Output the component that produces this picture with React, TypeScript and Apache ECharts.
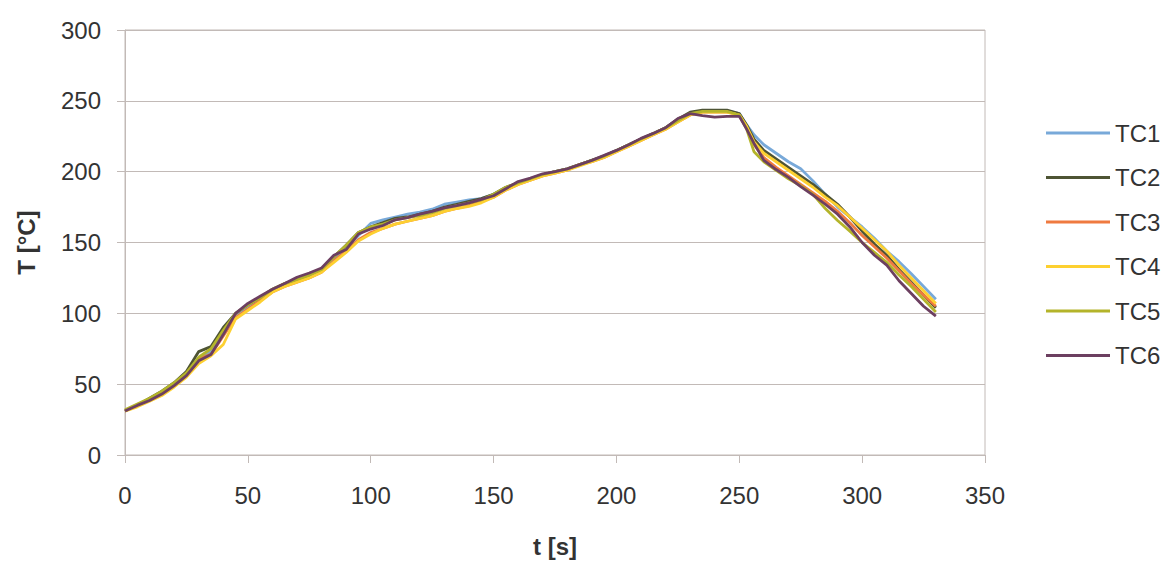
import React, { useEffect, useRef } from "react";
import * as echarts from "echarts";

const times = [0,5,10,15,20,25,30,35,40,45,50,55,60,65,70,75,80,85,90,95,100,105,110,115,120,125,130,135,140,145,150,155,160,165,170,175,180,185,190,195,200,205,210,215,220,225,230,235,240,245,250,253,256,260,265,270,275,280,285,290,295,300,305,310,315,320,325,330];

const tc1 = [31,35.5,39,43,49,56,67,73,86,98,104,110,116,120,124,127,131,139,146,155,163.5,166,168,170,171.5,173.5,177,178.5,180,181,184,188.5,192,195,198,200,202,205,208,211,215,219,223,227,231,236,241,243,243,243,241,233,226,219,213,207,202,193.5,184,175,168,161,153,144,136.5,128,119,110];
const tc2 = [31,35,40,45,51,59,73,76.5,90,100,106,111,117,121,124,127,131,140,148,157,161,164,167,168,170,172,175,177,179,181,184,189,192,195,198,200,202,205,208,211,215,219,223,227,231,237,242,243.5,243.5,243.5,241,233,223,215,209,203,197,191,184,177,168,158,149,141,131,122,113,104];
const tc3 = [31,35,39,44,50,57,68,71,84,97,103,109,115,119,122,125,129,137,144,152,157,160,163,165,167,169,172,174,176,179,182,187,191,194,197,199,201,205,207,210,214,218,222,226,230,235,240,242,242,242,240,231,219,210,203,197,191,185,179,172,164,155,147,139,130,121,113,105];
const tc4 = [31,34,38,42,48,55,64.5,70,78,96,102,108,115,119,122,125,129,136,143,151,156,160,163,165,167,169,172,174,175.5,178,182,187,191,194,197,199,201,204,207,210,214,218,222,226,230,235,240,242,242,242,240,232,221,213,207,201,195,189,182,176,168,160,152,144,134,125,116,107];
const tc5 = [32,36,40,45,51,58,69,75,88,100,106,111,117,121,124,127,131,140,148,157,161,163,166,167.5,169,171,174,176,178,180,184,189,192,195,198,200,202,205,208,211,215,219,223,227,231,236,241,242.5,242.5,242.5,240,230,214,207,201,195,190,184,174,165.5,158,150,143,136,127,119,110,101];
const tc6 = [31,35,38.5,43,49,56,66.5,71,85,100,107,112,117,121,125.5,128.5,132,141,145,156,159.5,162,166,167.5,170,172,174.5,176,178,180.5,183,188,193,195.5,198.5,200,202,205,208,211.5,215,219,223.5,227,231,237.5,241,239.5,238.5,239,239,230,220,208,201.5,196,189.5,183.5,177,170,161,150,141,134,123,114,105,98];

const seriesNames = ["TC1", "TC2", "TC3", "TC4", "TC5", "TC6"];
const seriesValues = [tc1, tc2, tc3, tc4, tc5, tc6];
const seriesColors = ["#78a9d9", "#4e5434", "#ef7a40", "#fdd030", "#b4b42a", "#6c3f60"];

const xTicks = { min: 0, max: 350, interval: 50 };
const yTicks = { min: 0, max: 300, interval: 50 };

const gridColor = "#c2bab7";
const textColor = "#333333";
const font = "'Liberation Sans', Arial, sans-serif";

export default function App() {
  const ref = useRef<HTMLDivElement>(null);
  useEffect(() => {
    if (!ref.current) return;
    const chart = echarts.init(ref.current, undefined, { renderer: "svg" });
    chart.setOption({
      animation: false,
      backgroundColor: "#ffffff",
      textStyle: { fontFamily: font },
      grid: {
        left: 125,
        top: 30,
        right: 182,
        bottom: 106,
        show: true,
        borderColor: gridColor,
        borderWidth: 1,
        containLabel: false,
        outerBoundsMode: "none",
      },
      legend: {
        orient: "vertical",
        left: 1041,
        top: 116,
        itemWidth: 64,
        itemHeight: 3,
        itemGap: 20.5,
        icon: "rect",
        textStyle: { fontSize: 24, color: textColor, fontFamily: font },
        data: seriesNames,
      },
      xAxis: {
        type: "value",
        min: xTicks.min,
        max: xTicks.max,
        interval: xTicks.interval,
        name: "t [s]",
        nameLocation: "middle",
        nameGap: 79,
        nameTextStyle: { fontSize: 24, fontWeight: "bold", color: textColor, fontFamily: font },
        axisLine: { show: true, lineStyle: { color: gridColor, width: 1 } },
        axisTick: { show: true, length: 8, lineStyle: { color: gridColor } },
        axisLabel: { fontSize: 24, color: textColor, margin: 28, fontFamily: font },
        splitLine: { show: false },
      },
      yAxis: {
        type: "value",
        min: yTicks.min,
        max: yTicks.max,
        interval: yTicks.interval,
        name: "T [°C]",
        nameLocation: "middle",
        nameGap: 87,
        nameRotate: 90,
        nameTextStyle: { fontSize: 24, fontWeight: "bold", color: textColor, fontFamily: font },
        axisLine: { show: true, lineStyle: { color: gridColor, width: 1 } },
        axisTick: { show: true, length: 8, lineStyle: { color: gridColor } },
        axisLabel: { fontSize: 24, color: textColor, margin: 24, fontFamily: font },
        splitLine: { show: true, lineStyle: { color: gridColor, width: 1 } },
      },
      series: seriesNames.map((name, i) => ({
        name,
        type: "line",
        showSymbol: false,
        symbol: "none",
        data: times.map((t, j) => [t, seriesValues[i][j]]),
        lineStyle: { color: seriesColors[i], width: 2.8 },
        itemStyle: { color: seriesColors[i] },
      })),
    });
    return () => chart.dispose();
  }, []);
  return (
    <div
      ref={ref}
      style={{ position: "fixed", left: 0, top: 0, width: 1167, height: 561 }}
    />
  );
}
